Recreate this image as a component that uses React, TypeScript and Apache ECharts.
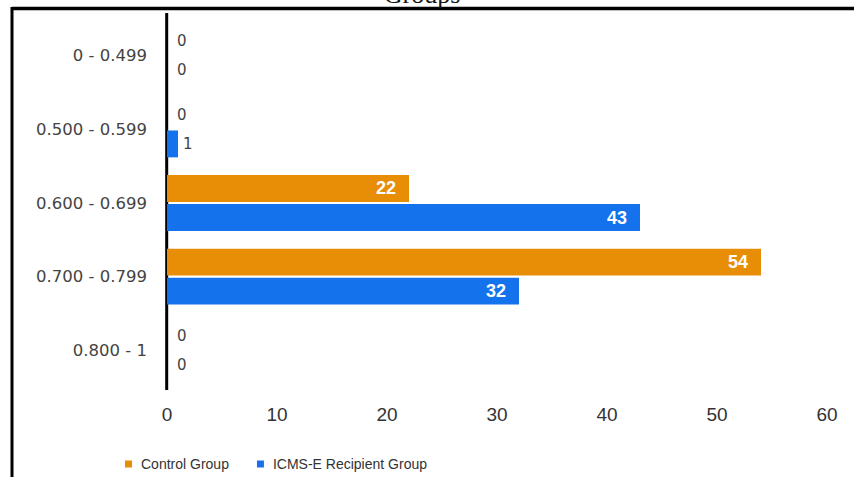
import React, { useEffect, useRef } from "react";
import * as echarts from "echarts";

// Score ranges (top to bottom) and the two groups' counts per range
const categories = ["0 - 0.499", "0.500 - 0.599", "0.600 - 0.699", "0.700 - 0.799", "0.800 - 1"];
const controlGroup = [0, 0, 22, 54, 0];
const recipientGroup = [0, 1, 43, 32, 0];
const seriesNames = ["Control Group", "ICMS-E Recipient Group"];
const xTicks = { min: 0, max: 60, interval: 10 };

const ORANGE = "#E88E06";
const BLUE = "#1473EC";

// Counts of 10 or more are written inside the bar end; small counts sit beside it
function buildData(values: number[]) {
  return values.map((v) => {
    if (v >= 10) {
      return {
        value: v,
        label: {
          position: "insideRight",
          distance: 13,
          color: "#ffffff",
          fontWeight: "bold",
          fontSize: 18,
          fontFamily: "Liberation Sans, Arial, sans-serif",
        },
      };
    }
    return {
      value: v,
      label: {
        position: "right",
        distance: v === 0 ? 10 : 5,
        color: "#444444",
        fontWeight: "normal",
        fontSize: 15,
        fontFamily: "DejaVu Sans, sans-serif",
      },
    };
  });
}

export default function App() {
  const ref = useRef<HTMLDivElement>(null);

  useEffect(() => {
    if (!ref.current) return;
    const chart = echarts.init(ref.current, null, { renderer: "svg" });
    chart.setOption({
      animation: false,
      backgroundColor: "#ffffff",
      grid: { left: 167, right: 27, top: 19, bottom: 90 },
      legend: {
        data: seriesNames,
        left: 125,
        top: 457,
        padding: 0,
        icon: "rect",
        itemWidth: 7,
        itemHeight: 7,
        itemGap: 28,
        textStyle: {
          color: "#333333",
          fontSize: 14,
          fontFamily: "Liberation Sans, Arial, sans-serif",
          padding: [0, 0, 0, 4],
        },
      },
      xAxis: {
        type: "value",
        min: xTicks.min,
        max: xTicks.max,
        interval: xTicks.interval,
        axisLine: { show: false },
        axisTick: { show: false },
        splitLine: { show: false },
        axisLabel: {
          margin: 18,
          color: "#333333",
          fontSize: 19,
          fontFamily: "Liberation Sans Narrow, Arial Narrow, Liberation Sans, sans-serif",
        },
      },
      yAxis: {
        type: "category",
        data: categories,
        inverse: true,
        axisLine: { show: false },
        axisTick: { show: false },
        splitLine: { show: false },
        axisLabel: {
          margin: 20,
          color: "#444444",
          fontSize: 16.5,
          fontFamily: "DejaVu Sans, sans-serif",
        },
      },
      series: [
        {
          name: seriesNames[0],
          type: "bar",
          data: buildData(controlGroup),
          itemStyle: { color: ORANGE },
          barCategoryGap: "24%",
          barGap: "8%",
          label: { show: true },
        },
        {
          name: seriesNames[1],
          type: "bar",
          data: buildData(recipientGroup),
          itemStyle: { color: BLUE },
          barCategoryGap: "24%",
          barGap: "8%",
          label: { show: true },
        },
      ],
      graphic: [
        // frame edges
        { type: "line", shape: { x1: 12, y1: 8.5, x2: 854, y2: 8.5 }, style: { stroke: "#000", lineWidth: 3.5 } },
        { type: "line", shape: { x1: 12, y1: 7, x2: 12, y2: 477 }, style: { stroke: "#000", lineWidth: 3 } },
        // vertical axis rule
        { type: "line", shape: { x1: 166.7, y1: 13, x2: 166.7, y2: 390 }, style: { stroke: "#000", lineWidth: 3 } },
        // heading, clipped by the top of the page
        {
          type: "text",
          x: 422,
          y: 7,
          style: {
            text: "Groups",
            fontSize: 26,
            fontFamily: "Liberation Serif, Times New Roman, serif",
            fill: "#111",
            textAlign: "center",
            textVerticalAlign: "bottom",
          },
        },
      ],
    });
    return () => chart.dispose();
  }, []);

  return <div ref={ref} style={{ width: 854, height: 477, position: "fixed", left: 0, top: 0 }} />;
}
